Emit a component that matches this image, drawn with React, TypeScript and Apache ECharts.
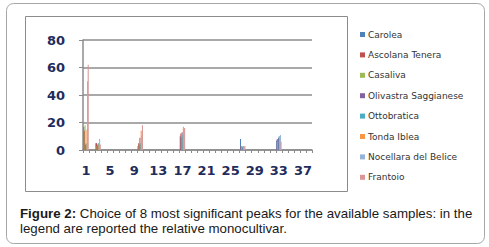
import React, { useEffect, useRef } from "react";
import * as echarts from "echarts";

const categories = [
  "1", "2", "3", "4", "5", "6", "7", "8", "9", "10",
  "11", "12", "13", "14", "15", "16", "17", "18", "19", "20",
  "21", "22", "23", "24", "25", "26", "27", "28", "29", "30",
  "31", "32", "33", "34", "35", "36", "37", "38",
];

const seriesNames = [
  "Carolea",
  "Ascolana Tenera",
  "Casaliva",
  "Olivastra Saggianese",
  "Ottobratica",
  "Tonda Iblea",
  "Nocellara del Belice",
  "Frantoio",
];

const colors = ["#4F81BD", "#C0504D", "#9BBB59", "#8064A2", "#4BACC6", "#F79646", "#95B3D7", "#D99694"];

const carolea = [
  17, 0, 5, 0, 0, 0, 0, 0, 0, 3,
  0, 0, 0, 0, 0, 0, 10, 0, 0, 0,
  0, 0, 0, 0, 0, 0, 8, 0, 0, 0,
  0, 0, 7, 0, 0, 0, 0, 0,
];
const ascolanaTenera = [
  14, 0, 5, 0, 0, 0, 0, 0, 0, 5,
  0, 0, 0, 0, 0, 0, 12, 0, 0, 0,
  0, 0, 0, 0, 0, 0, 3, 0, 0, 0,
  0, 0, 8, 0, 0, 0, 0, 0,
];
const casaliva = [
  18, 0, 3, 0, 0, 0, 0, 0, 0, 4,
  0, 0, 0, 0, 0, 0, 9, 0, 0, 0,
  0, 0, 0, 0, 0, 0, 3, 0, 0, 0,
  0, 0, 6, 0, 0, 0, 0, 0,
];
const olivastraSaggianese = [
  4, 0, 4, 0, 0, 0, 0, 0, 0, 9,
  0, 0, 0, 0, 0, 0, 13, 0, 0, 0,
  0, 0, 0, 0, 0, 0, 2, 0, 0, 0,
  0, 0, 9, 0, 0, 0, 0, 0,
];
const ottobratica = [
  5, 0, 5, 0, 0, 0, 0, 0, 0, 5,
  0, 0, 0, 0, 0, 0, 11, 0, 0, 0,
  0, 0, 0, 0, 0, 0, 3, 0, 0, 0,
  0, 0, 10, 0, 0, 0, 0, 0,
];
const tondaIblea = [
  15, 0, 4, 0, 0, 0, 0, 0, 0, 14,
  0, 0, 0, 0, 0, 0, 17, 0, 0, 0,
  0, 0, 0, 0, 0, 0, 3, 0, 0, 0,
  0, 0, 10, 0, 0, 0, 0, 0,
];
const nocellaraDelBelice = [
  50, 0, 8, 0, 0, 0, 0, 0, 0, 10,
  0, 0, 0, 0, 0, 0, 15, 0, 0, 0,
  0, 0, 0, 0, 0, 0, 2, 0, 0, 0,
  0, 0, 11, 0, 0, 0, 0, 0,
];
const frantoio = [
  62, 0, 4, 0, 0, 0, 0, 0, 0, 18,
  0, 0, 0, 0, 0, 0, 16, 0, 0, 0,
  0, 0, 0, 0, 0, 0, 3, 0, 0, 0,
  0, 0, 6, 0, 0, 0, 0, 0,
];

const seriesValues = [
  carolea,
  ascolanaTenera,
  casaliva,
  olivastraSaggianese,
  ottobratica,
  tondaIblea,
  nocellaraDelBelice,
  frantoio,
];

const captionBold = "Figure 2:";
const captionLine1 = " Choice of 8 most significant peaks for the available samples: in the";
const captionLine2 = "legend are reported the relative monocultivar.";

export default function App() {
  const ref = useRef<HTMLDivElement>(null);

  useEffect(() => {
    if (!ref.current) return;
    const chart = echarts.init(ref.current, null, { renderer: "svg" });
    const axisColor = "#1F2D5C";
    chart.setOption({
      animation: false,
      backgroundColor: "#ffffff",
      color: colors,
      grid: { left: 83, top: 40, width: 229, height: 110, containLabel: false },
      legend: {
        orient: "vertical",
        left: 355,
        top: 25,
        itemWidth: 5,
        itemHeight: 5,
        itemGap: 11.4,
        icon: "rect",
        textStyle: { fontFamily: "DejaVu Sans", fontSize: 9, color: "#333333", padding: [0, 0, 0, -2] },
        data: seriesNames,
      },
      xAxis: {
        type: "category",
        data: categories,
        boundaryGap: true,
        axisLine: { lineStyle: { color: "#8C8C8C", width: 1.5 } },
        axisTick: { show: true, interval: 0, length: 3, lineStyle: { color: "#8C8C8C" } },
        axisLabel: {
          interval: 3,
          margin: 14,
          fontFamily: "DejaVu Sans",
          fontWeight: "bold",
          fontSize: 13,
          color: axisColor,
        },
        splitLine: { show: false },
      },
      yAxis: {
        type: "value",
        min: 0,
        max: 80,
        interval: 20,
        axisLine: { show: true, lineStyle: { color: "#8C8C8C", width: 1.5 } },
        axisTick: { show: true, length: 4, lineStyle: { color: "#8C8C8C" } },
        axisLabel: {
          margin: 18,
          fontFamily: "DejaVu Sans",
          fontWeight: "bold",
          fontSize: 13,
          color: axisColor,
        },
        splitLine: { show: true, lineStyle: { color: "#8C8C8C", width: 1.5 } },
      },
      series: seriesNames.map((name, i) => ({
        name,
        type: "bar",
        data: seriesValues[i],
        barGap: "-40%",
        barCategoryGap: "10%",
        itemStyle: { color: colors[i] },
      })),
      graphic: [
        {
          type: "rect",
          shape: { x: 6.5, y: 3.5, width: 478, height: 240, r: 7 },
          style: { fill: "none", stroke: "#A6A6A6", lineWidth: 1 },
          silent: true,
          z: -1,
        },
        {
          type: "rect",
          shape: { x: 25.5, y: 16.5, width: 322, height: 175 },
          style: { fill: "none", stroke: "#8C8C8C", lineWidth: 1 },
          silent: true,
          z: -1,
        },
        {
          type: "text",
          left: 20,
          top: 206,
          style: {
            text: "{b|" + captionBold + "}" + captionLine1 + "\n" + captionLine2,
            fontFamily: "Liberation Sans",
            fontSize: 13.3,
            lineHeight: 15,
            fill: "#1a1a1a",
            rich: {
              b: { fontFamily: "Liberation Sans", fontWeight: "bold", fontSize: 13.3, lineHeight: 15, fill: "#1a1a1a" },
            },
          },
        },
      ],
    });
    return () => chart.dispose();
  }, []);

  return (
    <div
      ref={ref}
      style={{ position: "absolute", left: 0, top: 0, width: 489, height: 247 }}
    />
  );
}
